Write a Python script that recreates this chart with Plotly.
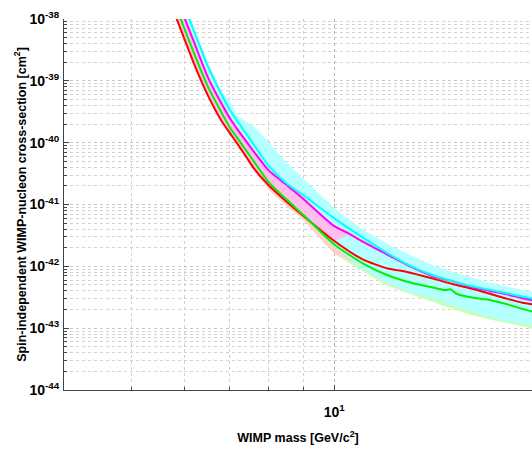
import plotly.graph_objects as go

# ---------------- data ----------------
red_mass = [5.8, 6.0, 6.2, 6.5, 6.8, 7.0, 7.2, 7.4, 7.6, 8.0, 8.5, 9.0, 10, 11, 12, 12.5, 13, 14, 15, 16, 17, 18, 19, 20]
red_xs = [1.23e-38, 4.70e-39, 1.87e-39, 5.77e-40, 2.29e-40, 1.44e-40, 9.30e-41, 5.95e-41, 3.85e-41, 2.03e-41,
          1.11e-41, 6.51e-42, 2.57e-42, 1.31e-42, 9.22e-43, 8.56e-43, 7.80e-43, 6.35e-43, 5.14e-43, 4.35e-43,
          3.61e-43, 3.00e-43, 2.58e-43, 2.37e-43]

green_mass = [5.8, 6.0, 6.2, 6.5, 7.0, 7.2, 7.4, 7.6, 8.0, 8.5, 9.0, 10, 11, 12, 13, 14, 14.6, 14.85, 15.2, 16, 17, 18, 19, 20]
green_xs = [1.81e-38, 6.89e-39, 2.75e-39, 7.98e-40, 1.78e-40, 1.15e-40, 7.52e-41, 4.98e-41, 2.28e-41, 1.20e-41,
            6.76e-42, 2.25e-42, 1.13e-42, 7.16e-43, 5.41e-43, 4.54e-43, 4.14e-43, 4.25e-43, 3.57e-43, 3.13e-43,
            2.86e-43, 2.45e-43, 2.05e-43, 1.76e-43]

magenta_mass = [5.8, 6.0, 6.2, 6.5, 6.8, 7.0, 7.2, 7.4, 7.6, 8.0, 8.5, 9.0, 10, 10.5, 11, 12, 13, 14, 15, 16, 17, 18, 19, 20]
magenta_xs = [2.74e-38, 1.04e-38, 4.17e-39, 1.13e-39, 4.38e-40, 2.51e-40, 1.60e-40, 1.06e-40, 7.17e-41, 3.53e-41,
              2.07e-41, 1.23e-41, 4.46e-42, 3.42e-42, 2.53e-42, 1.54e-42, 9.77e-43, 6.92e-43, 5.68e-43, 4.60e-43,
              4.00e-43, 3.53e-43, 3.05e-43, 2.72e-43]

cyan_mass = [5.8, 6.0, 6.2, 6.5, 6.8, 7.0, 7.5, 8.0, 8.5, 9.0, 10, 11, 12, 13, 14, 15, 16, 17, 18, 19, 20]
cyan_xs = [4.15e-38, 1.57e-38, 6.28e-39, 1.71e-39, 6.12e-40, 3.42e-40, 1.14e-40, 4.18e-41, 2.19e-41, 1.41e-41,
           5.98e-42, 2.96e-42, 1.62e-42, 1.00e-42, 7.16e-43, 5.70e-43, 4.75e-43, 4.16e-43, 3.66e-43, 3.25e-43, 2.91e-43]

# bands
cyan_band_mass = [5.8, 6.0, 6.2, 6.5, 6.8, 7.0, 7.2, 7.4, 7.6, 8.0, 8.5, 9.0, 10, 11, 12, 13, 14, 15, 16, 17, 18, 19, 20]
cyan_band_hi = [4.96e-38, 1.82e-38, 7.15e-39, 1.94e-39, 6.85e-40, 4.72e-40, 2.70e-40, 2.20e-40, 1.83e-40, 1.01e-40,
                4.74e-41, 2.62e-41, 8.77e-42, 3.97e-42, 2.30e-42, 1.49e-42, 1.04e-42, 8.09e-43, 6.52e-43, 5.45e-43,
                4.70e-43, 4.17e-43, 3.73e-43]
cyan_band_lo = [1.23e-38, 4.70e-39, 1.87e-39, 5.77e-40, 2.29e-40, 1.44e-40, 9.30e-41, 5.95e-41, 3.85e-41, 2.03e-41,
                1.11e-41, 6.51e-42, 2.13e-42, 9.39e-43, 5.37e-43, 3.84e-43, 3.13e-43, 2.37e-43, 1.89e-43, 1.53e-43,
                1.32e-43, 1.21e-43, 1.11e-43]

pink_band_mass = [5.8, 6.0, 6.2, 6.5, 6.8, 7.0, 7.2, 7.4, 7.6, 8.0, 8.5, 9.0, 10, 10.5, 11]
pink_band_hi = [2.74e-38, 1.04e-38, 4.17e-39, 1.13e-39, 4.38e-40, 2.51e-40, 1.60e-40, 1.06e-40, 7.17e-41, 3.53e-41,
                2.07e-41, 1.23e-41, 4.46e-42, 3.42e-42, 2.53e-42]
pink_band_lo = [1.23e-38, 4.70e-39, 1.87e-39, 5.77e-40, 2.29e-40, 1.44e-40, 9.30e-41, 5.95e-41, 3.85e-41, 2.03e-41,
                1.11e-41, 6.51e-42, 2.57e-42, 3.20e-42, 2.45e-42]

salmon_band_mass = [7.5, 8.0, 8.5, 9.0, 10, 11, 12]
salmon_band_hi = [4.76e-41, 2.03e-41, 1.11e-41, 6.51e-42, 2.57e-42, 1.31e-42, 9.22e-43]
salmon_band_lo = [4.60e-41, 1.70e-41, 9.40e-42, 5.60e-42, 1.60e-42, 1.01e-42, 7.00e-43]

lgreen_band_mass = [9, 10, 11, 12, 13, 14, 15, 16, 17, 18, 19, 20]
lgreen_band_hi = [6.76e-42, 2.25e-42, 1.13e-42, 7.16e-43, 5.41e-43, 4.54e-43, 3.80e-43, 3.13e-43, 2.86e-43,
                  2.45e-43, 2.05e-43, 1.76e-43]
lgreen_band_lo = [5.60e-42, 1.60e-42, 8.40e-43, 4.81e-43, 3.52e-43, 2.65e-43, 2.03e-43, 1.63e-43, 1.38e-43,
                  1.20e-43, 1.07e-43, 9.55e-44]

x_tick_vals = [10]
x_tick_text = ["10<sup>1</sup>"]
x_minor_vals = [5, 6, 7, 8, 9]
y_exponents = [-44, -43, -42, -41, -40, -39, -38]
y_tick_text = ["10<sup>%d</sup>" % e for e in y_exponents]

# ---------------- figure ----------------
fig = go.Figure()


def band(mass, lo, hi, color):
    fig.add_trace(go.Scatter(x=list(mass) + list(mass)[::-1], y=list(hi) + list(lo)[::-1],
                             fill="toself", fillcolor=color, mode="lines", line=dict(width=0),
                             hoverinfo="skip"))


band(lgreen_band_mass, lgreen_band_lo, lgreen_band_hi, "rgb(195,255,195)")
band(salmon_band_mass, salmon_band_lo, salmon_band_hi, "rgb(255,208,204)")
band(cyan_band_mass, cyan_band_lo, cyan_band_hi, "rgb(180,255,255)")
band(pink_band_mass, pink_band_lo, pink_band_hi, "rgb(255,190,235)")

for m, s, c in [(red_mass, red_xs, "rgb(255,0,0)"),
                (green_mass, green_xs, "rgb(0,240,0)"),
                (magenta_mass, magenta_xs, "rgb(255,0,255)"),
                (cyan_mass, cyan_xs, "rgb(0,255,255)")]:
    fig.add_trace(go.Scatter(x=m, y=s, mode="lines", line=dict(color=c, width=2, shape="spline", smoothing=0.6)))

y_tick_vals = [10.0 ** e for e in y_exponents]
y_minor_vals = [k * 10.0 ** e for e in y_exponents[:-1] for k in range(2, 10)]

font_family = "Liberation Sans, Arial, Helvetica, sans-serif"

fig.update_layout(
    width=532, height=449,
    margin=dict(l=64, r=0, t=19, b=59, autoexpand=False),
    paper_bgcolor="white", plot_bgcolor="white",
    showlegend=False,
    font=dict(family=font_family, color="black"),
)

fig.update_xaxes(
    type="log", range=[0.59956, 1.29289], automargin=False,
    tickmode="array", tickvals=x_tick_vals, ticktext=x_tick_text,
    ticks="inside", ticklen=5, tickcolor="#444", tickwidth=1,
    showline=True, linecolor="#444", linewidth=1, mirror=False,
    showgrid=True, gridcolor="#b5b5b5", griddash="dot", gridwidth=1,
    minor=dict(tickmode="array", tickvals=x_minor_vals, ticks="inside", ticklen=3, tickcolor="#444",
               showgrid=True, gridcolor="#cfcfcf", griddash="dot", gridwidth=1),
    zeroline=False,
    tickfont=dict(family=font_family, size=14, color="black", weight="bold"),
    ticklabelstandoff=9,
    title=dict(text="WIMP mass [GeV/c<sup>2</sup>]", font=dict(family=font_family, size=12.5, weight="bold"),
               standoff=14),
)

fig.update_yaxes(
    type="log", range=[-44, -38], automargin=False,
    tickmode="array", tickvals=y_tick_vals, ticktext=y_tick_text,
    ticks="inside", ticklen=5, tickcolor="#444", tickwidth=1,
    showline=True, linecolor="#444", linewidth=1, mirror=False,
    showgrid=True, gridcolor="#c8c8c8", griddash="dot", gridwidth=1,
    minor=dict(tickmode="array", tickvals=y_minor_vals, ticks="inside", ticklen=3, tickcolor="#444",
               showgrid=True, gridcolor="#d2d2d2", griddash="dot", gridwidth=1),
    zeroline=False,
    tickfont=dict(family=font_family, size=14, color="black", weight="bold"),
    ticklabelstandoff=1,
    title=dict(text="Spin-independent WIMP-nucleon cross-section [cm<sup>2</sup>]",
               font=dict(family=font_family, size=12.5, weight="bold"), standoff=0),
)

fig.write_html("out.html", config={"displayModeBar": False},
               post_script="document.body.style.margin='0px';")
